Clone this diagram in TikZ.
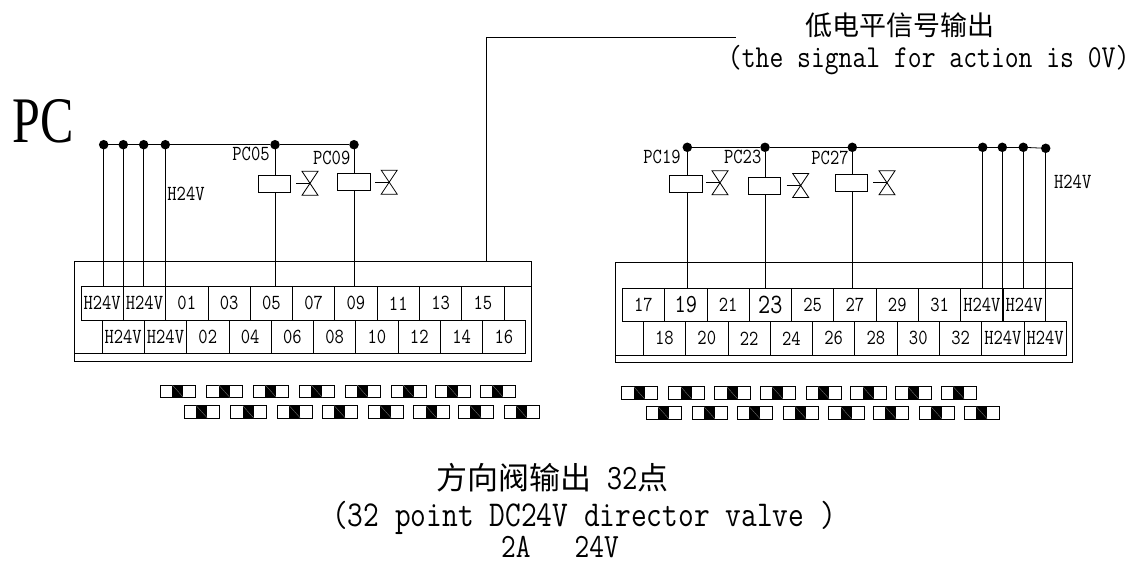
\documentclass[tikz,border=0pt]{standalone}
\usepackage{fontspec}
\usepackage{xcolor}
\newfontfamily\simfont{Latin Modern Mono}[FakeStretch=0.84]
\newfontfamily\pcfont{Liberation Serif}[FakeStretch=0.77]
\newfontfamily\cjk{Noto Sans CJK SC}
\newcommand{\fsz}[1]{\simfont\fontsize{#1}{#1}\selectfont}
\tikzset{
    valve/.pic={
        \draw (-8,-12) -- (8,-12) -- (-8,12) -- (8,12) -- cycle;
        \draw (-14,0) -- (0,0);
    },
    lamp/.pic={
        \draw[fill=white] (0,0) rectangle (35.4,12.3);
        \fill (12,0) rectangle (23,12.3);
        \draw[gray,line width=.3pt] (12,0) -- (23,12.3);
    }
}
\begin{document}
\begin{tikzpicture}
    [x=1pt,y=-1pt,line width=.8pt,
     every node/.style={inner sep=0,outer sep=0},
     cell/.style={draw,minimum width=42.3,minimum height=33.3,font=\fsz{21.5}},
     tag/.style={font=\fsz{21.5}},
     junction/.style={circle,fill,minimum size=9.5},
     coil/.style={draw,fill=white,minimum width=32.5,minimum height=17},
     panel/.style={draw,minimum width=457.4,minimum height=100}]
    \useasboundingbox (0,0) rectangle (1130,562);

    \node[font=\pcfont\fontsize{65}{65}\selectfont] (pc) at (43,121) {PC};

    %Bornier gauche
    \node[panel] (lbox) at (303,311.3) {};
    \foreach \t [count=\i] in {H24V,H24V,01,03,05,07,09,11,13,15}
        \node[cell] (la\i) at ({81+42.3*(\i-.5)},303.3) {\t};
    \foreach \t [count=\i] in {H24V,H24V,02,04,06,08,10,12,14,16}
        \node[cell] (lb\i) at ({102+42.3*(\i-.5)},336.6) {\t};
    \draw (la10.north east) -- (la10.north east -| lbox.east);
    \draw (lb1.south west) -- (lb1.south west -| lbox.west);

    %Bornier droit
    \node[panel] (rbox) at (844,312.3) {};
    \foreach \t [count=\i] in {17,{\fsz{26}19},21,{\fsz{28}23},25,27,29,31,H24V,H24V}
        \node[cell] (ra\i) at ({622.3+42.3*(\i-.5)},305) {\t};
    \foreach \t [count=\i] in {18,20,22,24,26,28,30,32,H24V,H24V}
        \node[cell] (rb\i) at ({643.3+42.3*(\i-.5)},338.3) {\t};
    \draw (ra10.north east) -- (ra10.north east -| rbox.east);
    \draw (rb1.south west) -- (rb1.south west -| rbox.west);

    % Points du bus
    \node[junction] (l0) at (103.7,144.7) {};
    \node[junction] (l1) at (123.3,144.7) {};
    \node[junction] (l2) at (143.7,144.7) {};
    \node[junction] (l3) at (165.3,144.7) {};
    \node[junction] (l5) at (275,144.7) {};
    \node[junction] (l9) at (354,144.7) {};

    \node[junction] (r19) at (687.3,147.3) {};
    \node[junction] (r23) at (765,147.3) {};
    \node[junction] (r27) at (852.3,147.3) {};
    \node[junction] (r0) at (982.7,147.3) {};
    \node[junction] (r1) at (1002.3,147.3) {};
    \node[junction] (r2) at (1023.3,147.3) {};
    \node[junction] (r3) at (1045.7,148.3) {};

    \foreach \from/\to in {l0/l1, l1/l2, l2/l3, l3/l5, l5/l9,
                           r19/r23, r23/r27, r27/r0, r0/r1, r1/r2, r2/r3}
    \draw (\from) -- (\to);

    \draw[line width=1.4pt] (l0) -- (l0 |- la1.north);
    \foreach \from/\to in {l1/lb1, l2/la2, l3/lb2, l5/la5, l9/la7,
                           r19/ra2, r23/ra4, r27/ra6,
                           r0/ra9, r1/rb9, r2/ra10, r3/rb10}
    \draw (\from) -- (\from |- \to.north);

    % Bobines et vannes
    \node[coil] (c05) at (274.3,184) {};
    \node[coil] (c09) at (354,181.6) {};
    \node[coil] (c19) at (685.8,184.2) {};
    \node[coil] (c23) at (764.4,185.8) {};
    \node[coil] (c27) at (851.2,182.8) {};
    \pic (v05) at (310,183.3) {valve};
    \pic (v09) at (389.2,182.2) {valve};
    \pic (v19) at (720,182.8) {valve};
    \pic (v23) at (800.7,185.5) {valve};
    \pic (v27) at (887,182.8) {valve};

    \node[tag] (t05) at (251,154.3) {PC05};
    \node[tag] (t09) at (331.7,157.7) {PC09};
    \node[tag] (t19) at (662,157) {PC19};
    \node[tag] (t23) at (742.7,157) {PC23};
    \node[tag] (t27) at (830,157.5) {PC27};
    \node[tag] (hl) at (186,194.3) {H24V};
    \node[tag] (hr) at (1072.7,181.7) {H24V};

    % Voyants
    \foreach \x in {160.3,206.7,253.3,299.3,345,391,435.3,480.3}
    \pic at (\x,385) {lamp};
    \foreach \x in {184.3,230.7,277.3,322.3,368.3,413.7,458.3,504}
    \pic at (\x,405.7) {lamp};
    \foreach \x in {621.7,668.7,714.7,760,806.3,850.7,895.7,941.3}
    \pic at (\x,386.7) {lamp};
    \foreach \x in {646,692,737.3,783.3,828.7,873.3,919,964.3}
    \pic at (\x,406.7) {lamp};

    % Sortie signal
    \coordinate (sig) at (735.7,37.5);
    \draw (lbox.north -| 486.3,0) -- (486.3,37.5) -- (sig);
    \node[font=\cjk\fontsize{27}{27}\selectfont] (cnsig) at (900,25) {低电平信号输出};
    \node[font=\fsz{32}] (ensig) at (928.7,60) {(the signal for action is 0V)};

    \node[font=\cjk\fontsize{31}{31}\selectfont] (cnout) at (552.5,478) {方向阀输出{\fsz{35.6}\ 32}点};
    \node[font=\fsz{36.4}] (enout) at (584,518) {(32 point DC24V director valve )};
    \node[font=\fsz{34}] (rate) at (560,547) {2A\ \ \ 24V};
\end{tikzpicture}
\end{document}
